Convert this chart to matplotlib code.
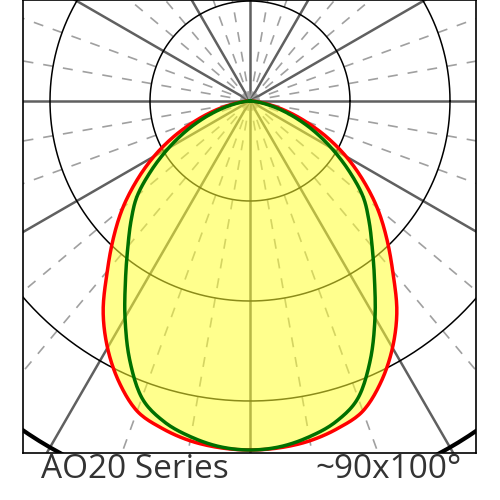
import numpy as np
import matplotlib.pyplot as plt

# angle from downward vertical (deg) and intensity in chart units
angles = [0, 5, 10, 15, 20, 25, 30, 35, 40, 45, 50, 55, 60, 65, 70, 75, 80, 85, 90]
red_r = [349, 348, 345, 339, 330, 310, 285, 256, 222, 193, 166, 138, 111, 84, 58, 36, 18, 6, 0]
green_r = [349, 347, 341, 332, 316, 285, 250, 217, 190, 168, 147, 120, 94, 70, 48, 29, 14, 4, 0]
rings = [100, 200, 300, 400]
title_left = "AO20 Series"
title_right = "~90x100°"


def curve(r_list):
    a = np.array(angles, dtype=float)
    r = np.array(r_list, dtype=float)
    a = np.concatenate([-a[::-1], a[1:]])
    r = np.concatenate([r[::-1], r[1:]])
    t = np.radians(a)
    px, py = r * np.sin(t), -r * np.cos(t)
    # Catmull-Rom smoothing through the read points
    P = np.column_stack([px, py])
    P = np.vstack([P[-2], P, P[1]])
    out = []
    for i in range(1, len(P) - 2):
        p0, p1, p2, p3 = P[i - 1], P[i], P[i + 1], P[i + 2]
        for s in np.linspace(0, 1, 12, endpoint=False):
            out.append(0.5 * (2 * p1 + (-p0 + p2) * s
                              + (2 * p0 - 5 * p1 + 4 * p2 - p3) * s ** 2
                              + (-p0 + 3 * p1 - 3 * p2 + p3) * s ** 3))
    out.append(P[-2])
    out = np.array(out)
    return out[:, 0], out[:, 1]


fig = plt.figure(figsize=(5, 5), dpi=100)
ax = fig.add_axes([0.046, 0.094, 0.906, 0.906])
ax.set_xlim(-227, 226)
ax.set_ylim(-352, 101)
ax.set_aspect("equal")
ax.set_xticks([])
ax.set_yticks([])
for s in ax.spines.values():
    s.set_linewidth(1.2)

L = 700
for deg in range(0, 360, 10):
    t = np.radians(deg)
    x, y = [0, L * np.sin(t)], [0, L * np.cos(t)]
    if deg % 30 == 0:
        ax.plot(x, y, color="#606060", lw=1.8, zorder=1)
    else:
        ax.plot(x, y, color="#a0a0a0", lw=1.2, dashes=(6, 6), zorder=1)

th = np.linspace(0, 2 * np.pi, 400)
for r in rings:
    ax.plot(r * np.cos(th), r * np.sin(th), color="black",
            lw=3 if r == rings[-1] else 1.1, zorder=2)

xr, yr = curve(red_r)
xg, yg = curve(green_r)
ax.fill(xr, yr, color="#ffff30", alpha=0.55, lw=0, zorder=3)
ax.plot(xr, yr, color="#ff0000", lw=2.5, zorder=4)
ax.plot(xg, yg, color="#007000", lw=2.5, zorder=5)

fig.text(0.082, 0.06, title_left, fontsize=24, family="Open Sans",
         color="#333333", va="center")
fig.text(0.924, 0.06, title_right, fontsize=24, family="Open Sans",
         color="#333333", va="center", ha="right")

fig.savefig("out.png")
